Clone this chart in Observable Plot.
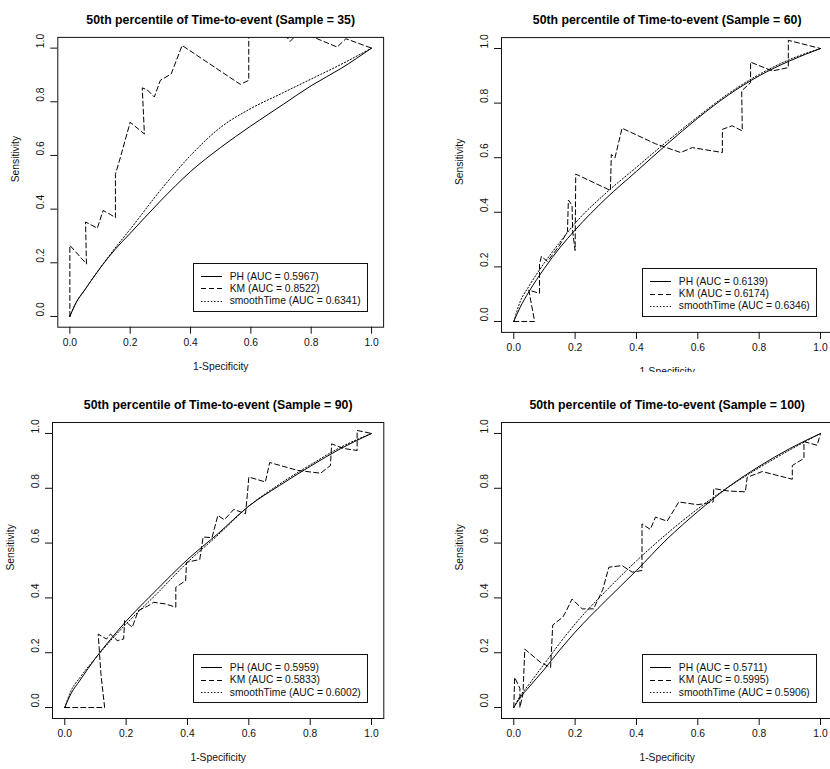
<!DOCTYPE html>
<html>
<head>
<meta charset="utf-8">
<script src="https://cdn.jsdelivr.net/npm/d3@7"></script>
<script src="https://cdn.jsdelivr.net/npm/@observablehq/plot@0.6"></script>
<style>
  html, body { margin: 0; padding: 0; background: #fff; }
  #root { position: relative; width: 830px; height: 769px; background: #fff; font-family: "Liberation Sans", Arial, sans-serif; }
  .cell { position: absolute; overflow: hidden; }
  .inner { position: relative; }
  .legend { position: absolute; border: 1px solid #111; background: #fff; padding: 6px 6px 4px 7px; font-size: 10.3px; color: #111; }
  .row { display: flex; align-items: center; height: 12.3px; white-space: nowrap; }
  .row svg { margin-right: 8px; flex: none; }
</style>
</head>
<body>
<div id="root"></div>
<script>
// ---------- data ----------
const tickValues = [0, 0.2, 0.4, 0.6, 0.8, 1.0];
const sampleSizes = [35, 60, 90, 100];
const titles = sampleSizes.map(n => `50th percentile of Time-to-event (Sample = ${n})`);
const seriesNames = ["PH", "KM", "smoothTime"];
const aucPH = ["0.5967", "0.6139", "0.5959", "0.5711"];
const aucKM = ["0.8522", "0.6174", "0.5833", "0.5995"];
const aucSmooth = ["0.6341", "0.6346", "0.6002", "0.5906"];

// false-positive-rate grid for the smooth curves
const fprGrid = [0, 0.02, 0.05, 0.1, 0.15, 0.2, 0.3, 0.4, 0.5, 0.6, 0.7, 0.8, 0.9, 1.0];

// PH (solid) sensitivities
const ph35 = [0, 0.05, 0.10, 0.18, 0.25, 0.31, 0.43, 0.54, 0.63, 0.71, 0.785, 0.86, 0.925, 1];
const ph60 = [0, 0.05, 0.11, 0.195, 0.27, 0.335, 0.45, 0.55, 0.65, 0.745, 0.83, 0.90, 0.955, 1];
const ph90 = [0, 0.05, 0.10, 0.18, 0.25, 0.315, 0.43, 0.54, 0.635, 0.735, 0.81, 0.88, 0.945, 1];
const ph100 = [0, 0.035, 0.075, 0.14, 0.21, 0.275, 0.39, 0.50, 0.615, 0.715, 0.805, 0.88, 0.945, 1];

// smoothTime (dotted) sensitivities
const sm35 = [0, 0.05, 0.10, 0.18, 0.255, 0.325, 0.47, 0.60, 0.705, 0.775, 0.83, 0.885, 0.94, 1];
const sm60 = [0, 0.07, 0.13, 0.215, 0.29, 0.36, 0.47, 0.565, 0.66, 0.75, 0.835, 0.905, 0.96, 1];
const sm90 = [0, 0.06, 0.11, 0.18, 0.245, 0.305, 0.415, 0.53, 0.63, 0.735, 0.815, 0.885, 0.95, 1];
const sm100 = [0, 0.04, 0.085, 0.16, 0.235, 0.305, 0.425, 0.535, 0.635, 0.725, 0.805, 0.875, 0.94, 1];

// KM (dashed) vertices
const km35x = [0, 0, 0.055, 0.052, 0.091, 0.11, 0.135, 0.151, 0.151, 0.168, 0.2, 0.247, 0.24, 0.256, 0.28, 0.3, 0.336, 0.372, 0.565, 0.593, 0.593, 0.7, 0.73, 0.76, 0.805, 0.886, 0.915, 1];
const km35y = [0, 0.265, 0.196, 0.352, 0.329, 0.395, 0.38, 0.368, 0.53, 0.595, 0.724, 0.68, 0.852, 0.845, 0.818, 0.88, 0.904, 1.01, 0.865, 0.88, 1.12, 1.07, 1.025, 1.06, 1.042, 1.004, 1.035, 1];

const km60x = [0, 0.068, 0.049, 0.084, 0.084, 0.09, 0.11, 0.13, 0.15, 0.175, 0.178, 0.19, 0.192, 0.2, 0.202, 0.315, 0.318, 0.33, 0.353, 0.462, 0.544, 0.582, 0.68, 0.68, 0.712, 0.745, 0.743, 0.772, 0.772, 0.843, 0.895, 0.895, 1];
const km60y = [0, 0, 0.115, 0.103, 0.21, 0.238, 0.22, 0.25, 0.28, 0.33, 0.445, 0.425, 0.33, 0.26, 0.54, 0.48, 0.612, 0.6, 0.708, 0.651, 0.619, 0.637, 0.619, 0.704, 0.717, 0.698, 0.845, 0.875, 0.95, 0.918, 0.93, 1.03, 1];

const km90x = [0, 0.13, 0.118, 0.109, 0.136, 0.149, 0.171, 0.192, 0.195, 0.22, 0.24, 0.27, 0.29, 0.328, 0.362, 0.362, 0.394, 0.397, 0.44, 0.451, 0.48, 0.499, 0.52, 0.551, 0.589, 0.595, 0.6, 0.654, 0.668, 0.76, 0.834, 0.866, 0.87, 0.91, 0.953, 0.953, 1];
const km90y = [0, 0, 0.12, 0.268, 0.25, 0.268, 0.244, 0.25, 0.317, 0.293, 0.354, 0.37, 0.384, 0.378, 0.366, 0.439, 0.463, 0.53, 0.54, 0.622, 0.62, 0.701, 0.685, 0.723, 0.707, 0.774, 0.841, 0.823, 0.894, 0.865, 0.855, 0.883, 0.962, 0.945, 0.938, 1.011, 1];

const km100x = [0, 0.003, 0.02, 0.02, 0.03, 0.036, 0.087, 0.12, 0.127, 0.16, 0.17, 0.19, 0.223, 0.26, 0.29, 0.31, 0.353, 0.386, 0.418, 0.418, 0.445, 0.462, 0.5, 0.538, 0.6, 0.65, 0.652, 0.7, 0.755, 0.761, 0.81, 0.908, 0.908, 0.946, 0.946, 0.989, 1];
const km100y = [0, 0.11, 0.07, 0.0, 0.05, 0.213, 0.165, 0.146, 0.301, 0.33, 0.35, 0.396, 0.36, 0.36, 0.43, 0.512, 0.518, 0.494, 0.5, 0.67, 0.65, 0.695, 0.68, 0.75, 0.74, 0.75, 0.799, 0.79, 0.787, 0.84, 0.861, 0.833, 0.883, 0.909, 0.97, 0.957, 1];

// ---------- build ----------
const toPts = (xs, ys) => xs.map((x, i) => ({x, y: ys[i]}));
const phAll = [ph35, ph60, ph90, ph100];
const smAll = [sm35, sm60, sm90, sm100];
const kmAll = [[km35x, km35y], [km60x, km60y], [km90x, km90y], [km100x, km100y]];

// panel placement (layout only)
const layout = [
  {left: 0,   top: 0,   cw: 415, ch: 372, W: 415, H: 385, ml: 57.3, mr: 31.9, mt: 36.9, mb: 58.3},
  {left: 415, top: 0,   cw: 415, ch: 372, W: 420, H: 385, ml: 86.0, mr: 2.7,  mt: 37.1, mb: 53.1},
  {left: 0,   top: 385, cw: 415, ch: 384, W: 415, H: 384, ml: 52.0, mr: 31.7, mt: 37.0, mb: 51.0},
  {left: 415, top: 385, cw: 415, ch: 384, W: 420, H: 384, ml: 86.0, mr: 2.7,  mt: 37.0, mb: 51.0}
];

const INK = "#111";
const dashKM = "5,3";
const dotSM = "1.3,2";
const font = "'Liberation Sans', Arial, sans-serif";
const root = document.getElementById("root");

layout.forEach((L, i) => {
  const ph = toPts(fprGrid, phAll[i]);
  const sm = toPts(fprGrid, smAll[i]);
  const km = toPts(kmAll[i][0], kmAll[i][1]);

  const chart = Plot.plot({
    width: L.W, height: L.H,
    marginLeft: L.ml, marginRight: L.mr, marginTop: L.mt, marginBottom: L.mb,
    style: {background: "transparent", color: INK, fontFamily: font, fontSize: "10.3px", overflow: "visible"},
    x: {domain: [-0.04, 1.04]},
    y: {domain: [-0.04, 1.04]},
    marks: [
      Plot.line(ph, {x: "x", y: "y", stroke: "#000", strokeWidth: 1, curve: "monotone-x", clip: true}),
      Plot.line(sm, {x: "x", y: "y", stroke: "#000", strokeWidth: 1, strokeDasharray: dotSM, curve: "monotone-x", clip: true}),
      Plot.line(km, {x: "x", y: "y", stroke: "#000", strokeWidth: 1, strokeDasharray: dashKM, clip: true}),
      Plot.axisX(tickValues, {anchor: "bottom", tickSize: 7, tickFormat: () => "", label: null, stroke: INK}),
      Plot.axisY(tickValues, {anchor: "left", tickSize: 7, tickFormat: () => "", label: null, stroke: INK}),
      Plot.text(tickValues, {x: d => d, text: d => d.toFixed(1), frameAnchor: "bottom", dy: 18.3, fontSize: 10.3, fill: INK}),
      Plot.text(tickValues, {y: d => d, text: d => d.toFixed(1), frameAnchor: "left", dx: -17, rotate: -90, fontSize: 10.3, fill: INK}),
      Plot.text(["1-Specificity"], {text: d => d, frameAnchor: "bottom", dy: 42.5, fontSize: 10.3, fill: INK}),
      Plot.text(["Sensitivity"], {text: d => d, frameAnchor: "left", dx: -42, rotate: -90, fontSize: 10.3, fill: INK}),
      Plot.text([titles[i]], {text: d => d, frameAnchor: "top", dy: -22.5, fontSize: 12.3, fontWeight: "bold", fill: "#000"}),
      Plot.frame({stroke: INK, strokeWidth: 1})
    ]
  });

  const cell = document.createElement("div");
  cell.className = "cell";
  Object.assign(cell.style, {left: L.left + "px", top: L.top + "px", width: L.cw + "px", height: L.ch + "px"});
  const inner = document.createElement("div");
  inner.className = "inner";
  Object.assign(inner.style, {width: L.W + "px", height: L.H + "px"});
  inner.appendChild(chart);

  // legend (bottom-right inside the frame)
  const aucs = [aucPH[i], aucKM[i], aucSmooth[i]];
  const dashes = [null, dashKM, dotSM];
  const leg = document.createElement("div");
  leg.className = "legend";
  leg.style.right = (L.mr + 15.5) + "px";
  leg.style.bottom = (L.mb + 14.8) + "px";
  seriesNames.forEach((name, k) => {
    const row = document.createElement("div");
    row.className = "row";
    const sw = d3.create("svg").attr("width", 21).attr("height", 12);
    sw.append("line").attr("x1", 0).attr("x2", 21).attr("y1", 6.5).attr("y2", 6.5)
      .attr("stroke", "#000").attr("stroke-width", 1)
      .attr("stroke-dasharray", dashes[k]);
    row.appendChild(sw.node());
    const t = document.createElement("span");
    t.textContent = `${name} (AUC = ${aucs[k]})`;
    row.appendChild(t);
    leg.appendChild(row);
  });
  inner.appendChild(leg);

  cell.appendChild(inner);
  root.appendChild(cell);
});
</script>
</body>
</html>
